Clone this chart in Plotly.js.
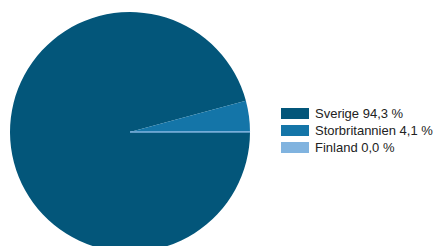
<!DOCTYPE html>
<html>
<head>
<meta charset="utf-8">
<script src="https://cdn.plot.ly/plotly-3.0.1.min.js"></script>
<style>
html,body{margin:0;padding:0;overflow:hidden;background:#fff;}
#chart{width:439px;height:264px;}
</style>
</head>
<body>
<div id="chart"></div>
<script>
var categories = ["Sverige", "Storbritannien", "Finland"];
var shares = [94.3, 4.1, 0.02];
var colors = ["#03567a", "#1475a8", "#80b3df"];

var W = 439, H = 264;
function px(x){ return x / W; }
function py(y){ return (H - y) / H; }

function fmt(v){ return v.toFixed(1).replace(".", ",") + " %"; }

var trace = {
  type: "pie",
  labels: categories,
  values: shares,
  sort: false,
  direction: "clockwise",
  rotation: 90,
  textinfo: "none",
  hoverinfo: "none",
  showlegend: false,
  marker: {
    colors: colors,
    line: { color: ["rgba(0,0,0,0)", "rgba(0,0,0,0)", colors[2]], width: [0, 0, 1] }
  },
  domain: { x: [px(10), px(250)], y: [py(252), py(12)] }
};

var shapes = [], annotations = [];
var rowTop = [108, 125, 142];
for (var i = 0; i < categories.length; i++) {
  shapes.push({
    type: "rect", xref: "paper", yref: "paper",
    x0: px(281), x1: px(309), y0: py(rowTop[i] + 11), y1: py(rowTop[i]),
    fillcolor: colors[i], line: { width: 0 }
  });
  annotations.push({
    xref: "paper", yref: "paper",
    x: px(313), y: py(rowTop[i] + 5.5),
    xanchor: "left", yanchor: "middle",
    text: categories[i] + " " + fmt(shares[i]),
    showarrow: false,
    font: { family: "Liberation Sans, Arial, sans-serif", size: 13, color: "#222" }
  });
}

var layout = {
  width: W, height: H,
  margin: { l: 0, r: 0, t: 0, b: 0, pad: 0 },
  paper_bgcolor: "#fff",
  showlegend: false,
  shapes: shapes,
  annotations: annotations
};

Plotly.newPlot("chart", [trace], layout, { staticPlot: true, displayModeBar: false });
</script>
</body>
</html>
